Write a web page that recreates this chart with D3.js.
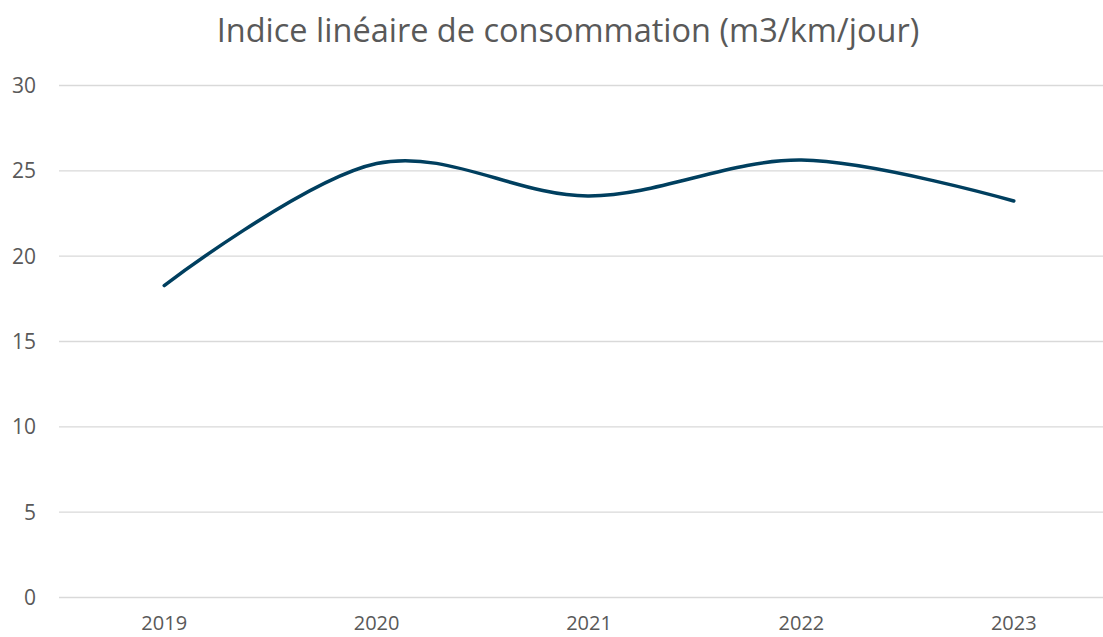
<!DOCTYPE html>
<html>
<head>
<meta charset="utf-8">
<script src="https://cdn.jsdelivr.net/npm/d3@7"></script>
<style>
  body { margin: 0; background: #fff; }
  .y-axis text { font-family: "Open Sans", sans-serif; font-size: 21px; fill: #595959; }
  .x-axis text { font-family: "Open Sans", sans-serif; font-size: 20px; fill: #595959; }
</style>
</head>
<body>
<svg id="chart" width="1103" height="637"></svg>
<script>
const annees = ["2019", "2020", "2021", "2022", "2023"];
const indice = [18.25, 25.4, 23.5, 25.6, 23.2];
const yTicks = [0, 5, 10, 15, 20, 25, 30];

const data = annees.map((a, i) => ({ annee: a, valeur: indice[i] }));

const svg = d3.select("#chart");

// échelles
const xScale = d3.scaleBand()
    .domain(annees)
    .range([58, 1120]);

const yScale = d3.scaleLinear()
    .domain([0, 30])
    .range([597, 85]);

// titre
svg.append("text")
    .attr("x", 568)
    .attr("y", 42)
    .style("text-anchor", "middle")
    .style("font-family", "'Open Sans', sans-serif")
    .style("font-size", "32.5px")
    .style("fill", "#595959")
    .text("Indice linéaire de consommation (m3/km/jour)");

// grille + étiquettes Y
const yAxis = svg.append("g")
    .attr("class", "y-axis")
    .attr("transform", "translate(59,0)")
    .call(d3.axisLeft(yScale).tickValues(yTicks).tickSize(-1060).tickPadding(23));

yAxis.select(".domain").remove();
yAxis.selectAll("line").attr("stroke", "#d9d9d9").attr("stroke-width", 1.3);
yAxis.selectAll("text").attr("dy", "0.35em");

// axe X
const xAxis = svg.append("g")
    .attr("class", "x-axis")
    .attr("transform", "translate(0,597)")
    .call(d3.axisBottom(xScale).tickSize(0).tickPadding(19));

xAxis.select(".domain").remove();

// courbe lissée
const line = d3.line()
    .x(d => xScale(d.annee) + xScale.bandwidth() / 2)
    .y(d => yScale(d.valeur))
    .curve(d3.curveCatmullRom.alpha(0));

svg.append("path")
    .datum(data)
    .attr("d", line)
    .attr("fill", "none")
    .attr("stroke", "#003f5f")
    .attr("stroke-width", 3.5)
    .attr("stroke-linecap", "round");
</script>
</body>
</html>
